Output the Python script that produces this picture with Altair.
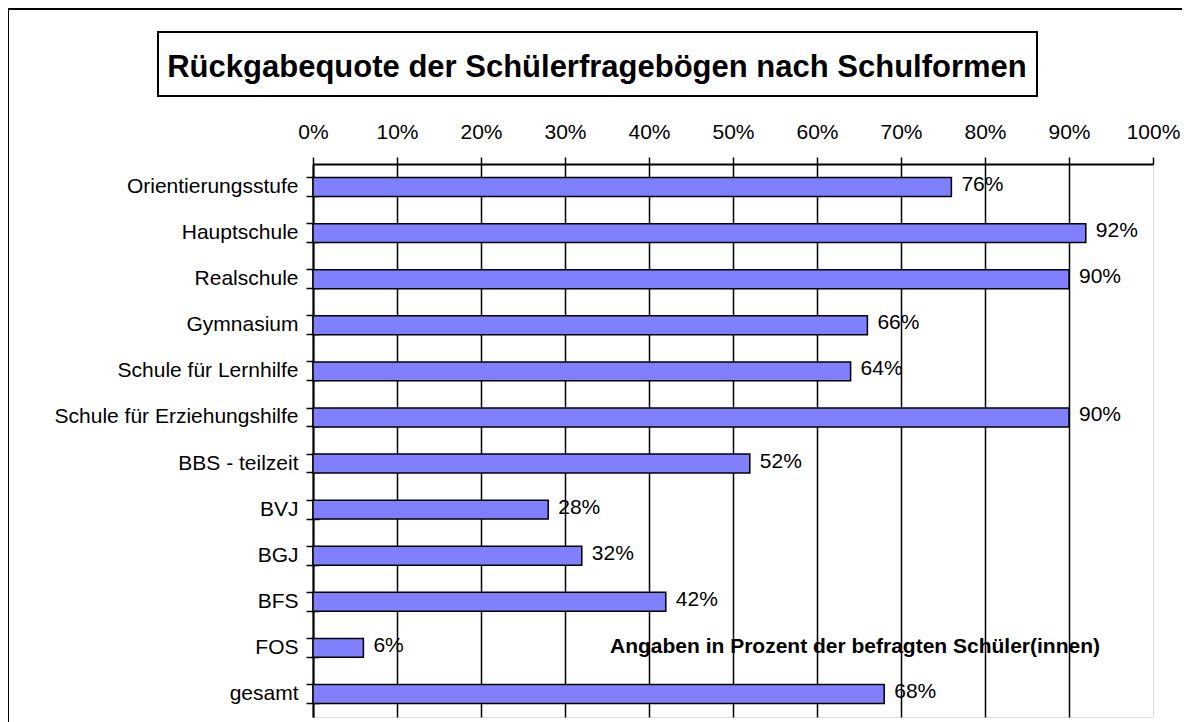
import altair as alt
import pandas as pd

categories = [
    "Orientierungsstufe", "Hauptschule", "Realschule", "Gymnasium",
    "Schule für Lernhilfe", "Schule für Erziehungshilfe", "BBS - teilzeit",
    "BVJ", "BGJ", "BFS", "FOS", "gesamt",
]
values = [0.76, 0.92, 0.90, 0.66, 0.64, 0.90, 0.52, 0.28, 0.32, 0.42, 0.06, 0.68]
x_ticks = [0, 0.1, 0.2, 0.3, 0.4, 0.5, 0.6, 0.7, 0.8, 0.9, 1.0]
title_text = "Rückgabequote der Schülerfragebögen nach Schulformen"
note_text = "Angaben in Prozent der befragten Schüler(innen)"

FONT = "Liberation Sans"
df = pd.DataFrame({"Schulform": categories, "Quote": values})

y_scale = alt.Scale(paddingInner=0.59, paddingOuter=0.295)

x_enc = alt.X(
    "Quote:Q",
    scale=alt.Scale(domain=[0, 1], nice=False, zero=True),
    axis=alt.Axis(
        orient="top", values=x_ticks, format=".0%", title=None,
        labelFont=FONT, labelFontSize=21, labelColor="black",
        labelBaseline="alphabetic", labelPadding=19, labelFlush=False, labelAngle=0,
        tickSize=7, tickColor="black", tickWidth=1.5,
        domainColor="black", domainWidth=2,
        grid=True, gridWidth=1.5,
        gridColor=alt.condition("datum.value >= 0.999", alt.value("transparent"), alt.value("black")),
    ),
)
y_enc = alt.Y(
    "Schulform:N",
    sort=categories,
    scale=y_scale,
    axis=alt.Axis(
        orient="left", title=None, labelFont=FONT, labelFontSize=21, labelColor="black",
        labelPadding=8, labelLimit=400,
        tickSize=7, tickColor="black", tickWidth=1.5, bandPosition=0,
        domainColor="black", domainWidth=2, grid=False,
    ),
)
# second (tick-only) axis: crossing ticks at the lower band edges
y_enc_ticks = alt.Y(
    "Schulform:N",
    sort=categories,
    scale=y_scale,
    axis=alt.Axis(
        orient="left", title=None, labels=False, domain=False, grid=False,
        offset=-6, tickSize=13, tickColor="black", tickWidth=1.5, bandPosition=1,
    ),
)

bars = alt.Chart(df).mark_bar(fill="#8080FF", stroke="black", strokeWidth=1.5).encode(x=x_enc, y=y_enc)

labels = alt.Chart(df).mark_text(
    align="left", baseline="middle", dx=10, dy=-2, font=FONT, fontSize=21, color="black"
).encode(
    x="Quote:Q", y=y_enc_ticks,
    text=alt.Text("Quote:Q", format=".0%"),
)

note = alt.Chart(pd.DataFrame({"t": [note_text]})).mark_text(
    align="center", baseline="alphabetic", font=FONT, fontSize=21, fontWeight="bold", color="black"
).encode(x=alt.value(542), y=alt.value(489), text="t:N")

title_box = alt.Chart(pd.DataFrame({"t": [title_text]})).mark_rect(
    fill="white", stroke="black", strokeWidth=2
).encode(x=alt.value(-155), x2=alt.value(724), y=alt.value(-132), y2=alt.value(-68))

title = alt.Chart(pd.DataFrame({"t": [title_text]})).mark_text(
    align="center", baseline="alphabetic", font=FONT, fontSize=31, fontWeight="bold", color="black"
).encode(x=alt.value(284), y=alt.value(-87), text="t:N")

frame = alt.Chart(pd.DataFrame({"t": [""]})).mark_rect(
    fill="transparent", stroke="black", strokeWidth=2
).encode(x=alt.value(-305), x2=alt.value(950), y=alt.value(-155), y2=alt.value(650))

chart = alt.layer(bars, labels, note, title_box, title, frame).resolve_scale(
    y="shared"
).resolve_axis(y="independent").properties(
    width=840, height=553,
    autosize=alt.AutoSizeParams(type="none"),
    padding={"left": 305, "top": 156, "right": 29, "bottom": 6},
).configure_view(stroke="#808080", strokeWidth=2.5).configure(background="white")

chart.save("out.html", embed_options={"renderer": "svg", "actions": False})
